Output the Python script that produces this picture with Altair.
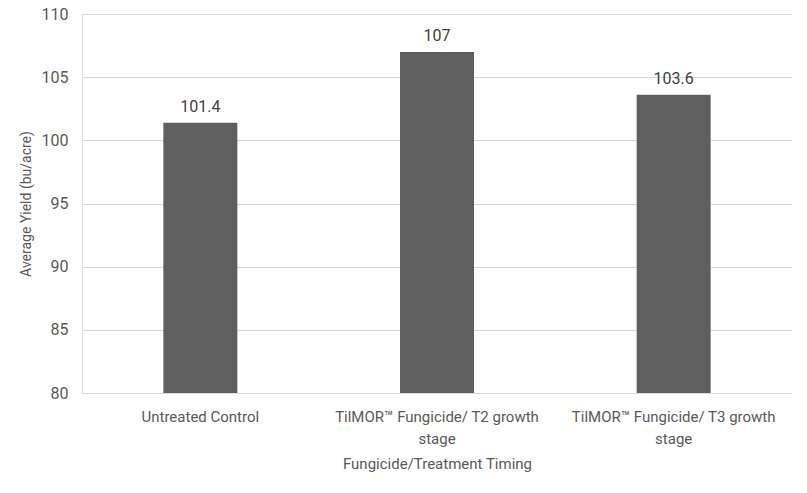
import altair as alt
import pandas as pd

categories = ["Untreated Control", "TilMOR™ Fungicide/ T2 growth stage", "TilMOR™ Fungicide/ T3 growth stage"]
yields = [101.4, 107, 103.6]
value_labels = ["101.4", "107", "103.6"]
y_ticks = [80, 85, 90, 95, 100, 105, 110]
y_base = 80

df = pd.DataFrame({"cat": categories, "yield": yields, "lbl": value_labels})

FONT = "Roboto"
TXT = "#595959"

x = alt.X("cat:N", sort=categories, title="Fungicide/Treatment Timing",
          scale=alt.Scale(paddingInner=0, paddingOuter=0),
          axis=alt.Axis(labelAngle=0, labelFont=FONT, labelFontSize=15, labelColor=TXT,
                        labelLineHeight=22, labelPadding=16, labelLimit=300,
                        labelExpr="split(replace(datum.label, ' stage', '|stage'), '|')",
                        ticks=False, domainColor="#d9d9d9", domainWidth=1,
                        titleFont=FONT, titleFontSize=15, titleFontWeight="normal",
                        titleColor=TXT, titlePadding=10))
y = alt.Y("yield:Q", title="Average Yield (bu/acre)",
          scale=alt.Scale(domain=[80, 110], nice=False, zero=False),
          axis=alt.Axis(values=y_ticks, labelFont=FONT, labelFontSize=16, labelColor=TXT,
                        labelPadding=14, ticks=False, domain=False, gridColor="#d9d9d9",
                        titleFont=FONT, titleFontSize=14, titleFontWeight="normal",
                        titleColor=TXT, titlePadding=8))

bars = alt.Chart(df).mark_bar(size=74, color="#5f5f5f").encode(x=x, y=y, y2=alt.datum(y_base))
text = alt.Chart(df).mark_text(baseline="bottom", dy=-8, font=FONT, fontSize=16, color="#404040").encode(
    x=alt.X("cat:N", sort=categories), y="yield:Q", text="lbl:N")

chart = (bars + text).properties(
    width=710, height=379,
    autosize=alt.AutoSizeParams(type="none"),
    padding={"left": 74, "top": 6, "right": 0, "bottom": 92},
).configure_view(stroke=None).configure(background="white")

chart.save("out.html", embed_options={"renderer": "svg", "actions": False})
